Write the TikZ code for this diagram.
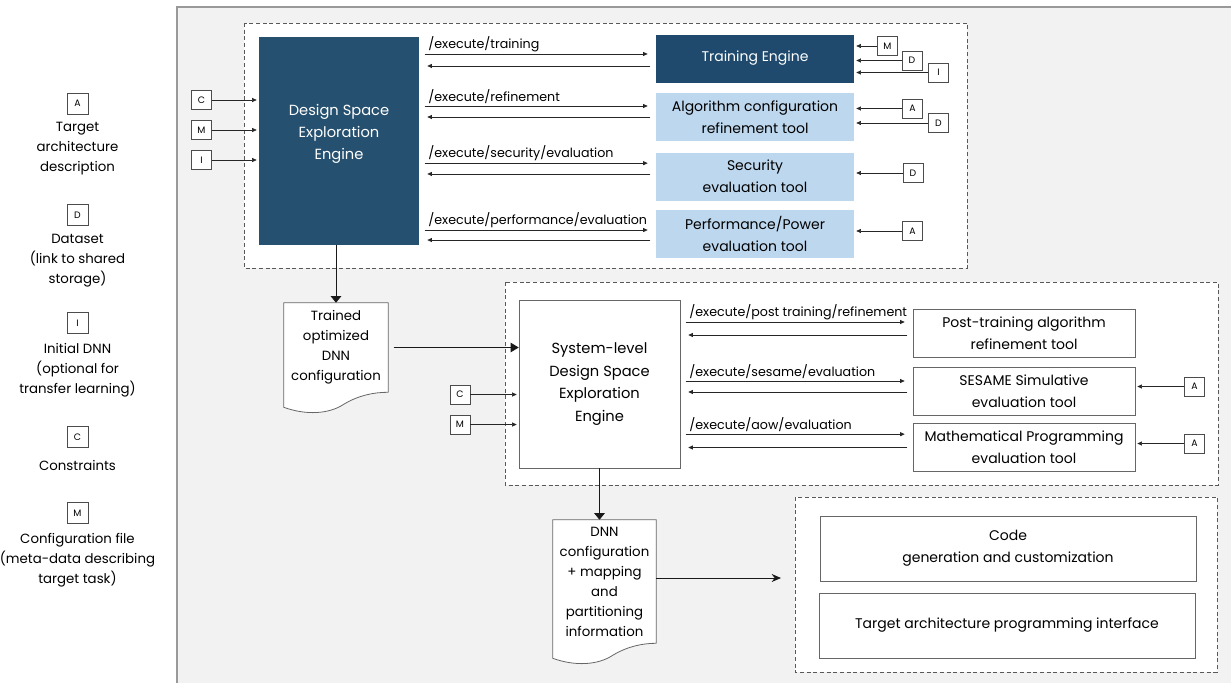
\documentclass[tikz,border=0pt]{standalone}
\usepackage{fontspec}
\setmainfont{Poppins}
\usetikzlibrary{arrows.meta,calc,positioning,backgrounds}
\definecolor{dseblue}{HTML}{26506F}
\definecolor{trainblue}{HTML}{1F4A6D}
\definecolor{toolblue}{HTML}{BDD7EE}
\definecolor{panelgray}{HTML}{F2F2F2}
\tikzset{
	box/.style={minimum width=148.5pt, minimum height=36pt, inner sep=2pt, align=center, font=\fontsize{10.5}{16.5}\selectfont},
	darkbox/.style={box, fill=trainblue, text=white},
	lightbox/.style={box, fill=toolblue},
	whitebox/.style={box, draw=black!60, fill=white, minimum width=166.5pt},
	letter/.style={draw=black!70, fill=white, minimum width=15pt, minimum height=14pt, inner sep=0pt, font=\fontsize{7}{8}\selectfont},
	legtxt/.style={align=center, inner sep=0pt, font=\fontsize{10}{15}\selectfont},
	doctxt/.style={align=center, inner sep=0pt, font=\fontsize{10}{15}\selectfont},
	route/.style={font=\fontsize{9.5}{11}\selectfont, inner sep=1.5pt, anchor=south west, xshift=5pt},
	call/.style={draw=black!85, line width=0.6pt, -{Triangle[length=3.5pt,width=3pt]}, shorten <=4pt, shorten >=6pt},
	feed/.style={draw=black!85, line width=0.5pt, -{Triangle[length=3.5pt,width=3pt]}, shorten >=1.5pt},
	grp/.style={draw=black!65, line width=0.6pt, dash pattern=on 3pt off 2pt, fill=white},
	docline/.style={draw=black!60, line width=0.6pt, fill=white},
	flow/.style={draw=black!90, line width=0.6pt, -{Triangle[length=5pt,width=8pt]}},
}
\def\route#1#2#3#4#5{
	\draw[call] ([yshift=#4]#1.east |- #2.west) -- node[route, pos=0] (#2lbl) {#3} ([yshift=#4]#2.west);
	\draw[call] ([yshift=#5]#2.west) -- ([yshift=#5]#1.east |- #2.west);
}
\def\docwave#1{\draw[docline] (#1.south east) -- (#1.north east) -- (#1.north west) -- ($(#1.south west)+(0,15)$) .. controls ($(#1.south west)+(22,23)$) and ($(#1.south west)+(45,22)$) .. ($(#1.south west)+(60,12)$) .. controls ($(#1.south west)+(75,3)$) and ($(#1.south west)+(90,0)$) .. (#1.south east);}

\begin{document}
\begin{tikzpicture}[x=0.75pt, y=-0.75pt]
	\useasboundingbox (0,0) rectangle (1231,683);
	\begin{scope}[on background layer]
		\fill[panelgray] (177,7) rectangle (1231,683);
		\draw[black!40, line width=0.8pt] (1231,7) -- (177,7) -- (177,683);
	\end{scope}
	
	\node[letter, minimum width=15.75pt, minimum height=15.75pt] (lA) at (77.5,103.5) {A};
	\node[legtxt, below=6pt of lA] (lAt) {Target\\architecture\\description};
	\node[letter, minimum width=15.75pt, minimum height=15.75pt] (lD) at (77.5,215) {D};
	\node[legtxt, below=6pt of lD] (lDt) {Dataset\\(link to shared\\storage)};
	\node[letter, minimum width=15.75pt, minimum height=15.75pt] (lI) at (77.5,323) {I};
	\node[legtxt, below=7pt of lI] (lIt) {Initial DNN\\(optional for\\transfer learning)};
	\node[letter, minimum width=15.75pt, minimum height=15.75pt] (lC) at (77.5,437) {C};
	\node[legtxt, below=9pt of lC] (lCt) {Constraints};
	\node[letter, minimum width=15.75pt, minimum height=15.75pt] (lM) at (77.5,513) {M};
	\node[legtxt, below=7pt of lM] (lMt) {Configuration file\\(meta-data describing\\target task)};
	
	\draw[grp] (244,23) rectangle (967,268);
	\draw[grp] (505,282) rectangle (1218,485);
	\draw[grp] (795,497) rectangle (1217,672);
	
	\node[box, fill=dseblue, minimum width=120pt, minimum height=156pt] (dse) at (339,141) {};
	\node[align=center, text=white, font=\fontsize{11}{16.5}\selectfont] (dsetxt) at ([yshift=5pt]dse.center) {Design Space\\Exploration\\Engine};
	\node[darkbox] (train) at (755,58.5) {Training Engine};
	\node[lightbox] (algref) at (755,117) {Algorithm configuration\\refinement tool};
	\node[lightbox] (sec) at (755,176.5) {Security\\evaluation tool};
	\node[lightbox] (perf) at (755,233.5) {Performance/Power\\evaluation tool};
	
	\route{dse}{train}{/execute/training}{3.4pt}{-5.6pt}
	\route{dse}{algref}{/execute/refinement}{8.25pt}{0pt}
	\route{dse}{sec}{/execute/security/evaluation}{10pt}{1.9pt}
	\route{dse}{perf}{/execute/performance/evaluation}{2.6pt}{-4.9pt}
	
	\node[letter] (dC) at (201.5,100) {C};
	\node[letter] (dM) at (201.5,130) {M};
	\node[letter] (dI) at (201.5,160) {I};
	\foreach \l in {dC,dM,dI}
		\draw[feed] (\l.east) -- (\l.east -| dse.west);
	
	\node[letter] (tM) at (887.5,46) {M};
	\node[letter] (tD) at (912,60.5) {D};
	\node[letter] (tI) at (938.5,72.5) {I};
	\node[letter] (aA) at (912.5,108.5) {A};
	\node[letter] (aD) at (938.5,123) {D};
	\node[letter] (sD) at (913,173) {D};
	\node[letter] (pA) at (912.5,231) {A};
	\foreach \l/\t in {tM/train,tD/train,tI/train,aA/algref,aD/algref,sD/sec,pA/perf}
		\draw[feed] (\l.west) -- (\l.west -| \t.east);
	
	\node[doctxt, minimum width=78pt, minimum height=66.75pt] (trained) at (336,347.5) {Trained\\optimized\\DNN\\configuration};
	\begin{scope}[on background layer]
		\docwave{trained}
	\end{scope}
	\draw[flow] (trained.north |- dse.south) -- (trained.north);
	
	\node[box, draw=black!60, fill=white, minimum width=120.75pt, minimum height=126pt, font=\fontsize{11}{17}\selectfont] (sys) at (599.5,384) {System-level\\Design Space\\Exploration\\Engine};
	\draw[draw=black!90, line width=0.6pt, -{Triangle[length=6pt,width=7pt]}, shorten <=4pt] (trained.east) -- (trained.east -| sys.west);
	
	\node[whitebox] (postref) at (1024,333) {Post-training algorithm\\refinement tool};
	\node[whitebox] (sesame) at (1024,391) {SESAME Simulative\\evaluation tool};
	\node[whitebox] (mathprog) at (1024,447.5) {Mathematical Programming\\evaluation tool};
	
	\route{sys}{postref}{/execute/post training/refinement}{8.25pt}{-1.5pt}
	\route{sys}{sesame}{/execute/sesame/evaluation}{7.5pt}{-0.75pt}
	\route{sys}{mathprog}{/execute/aow/evaluation}{10pt}{0pt}
	
	\node[letter] (sC) at (460,394.5) {C};
	\node[letter] (sM) at (460,424.5) {M};
	\foreach \l in {sC,sM}
		\draw[feed] (\l.east) -- (\l.east -| sys.west);
	\node[letter] (ssA) at (1194.5,386.5) {A};
	\node[letter] (mpA) at (1194.5,443.5) {A};
	\draw[feed] (ssA.west) -- (ssA.west -| sesame.east);
	\draw[feed] (mpA.west) -- (mpA.west -| mathprog.east);
	
	\node[doctxt, minimum width=77.25pt, minimum height=92.25pt] (dnnmap) at (604.5,581.5) {DNN\\configuration\\+ mapping\\and\\partitioning\\information};
	\begin{scope}[on background layer]
		\docwave{dnnmap}
	\end{scope}
	\draw[flow] (sys.south) -- (sys.south |- dnnmap.north);
	
	\node[whitebox, minimum width=282pt, minimum height=48.75pt] (codegen) at (1008,548.5) {Code\\generation and customization};
	\node[whitebox, minimum width=282pt, minimum height=48.75pt] (tapi) at (1007,625.5) {Target architecture programming interface};
	\coordinate (gen) at (781,578);
	\draw[draw=black!90, line width=0.6pt, -{Stealth[length=7pt,width=6pt]}] (dnnmap.east |- gen) -- (gen);
\end{tikzpicture}
\end{document}
